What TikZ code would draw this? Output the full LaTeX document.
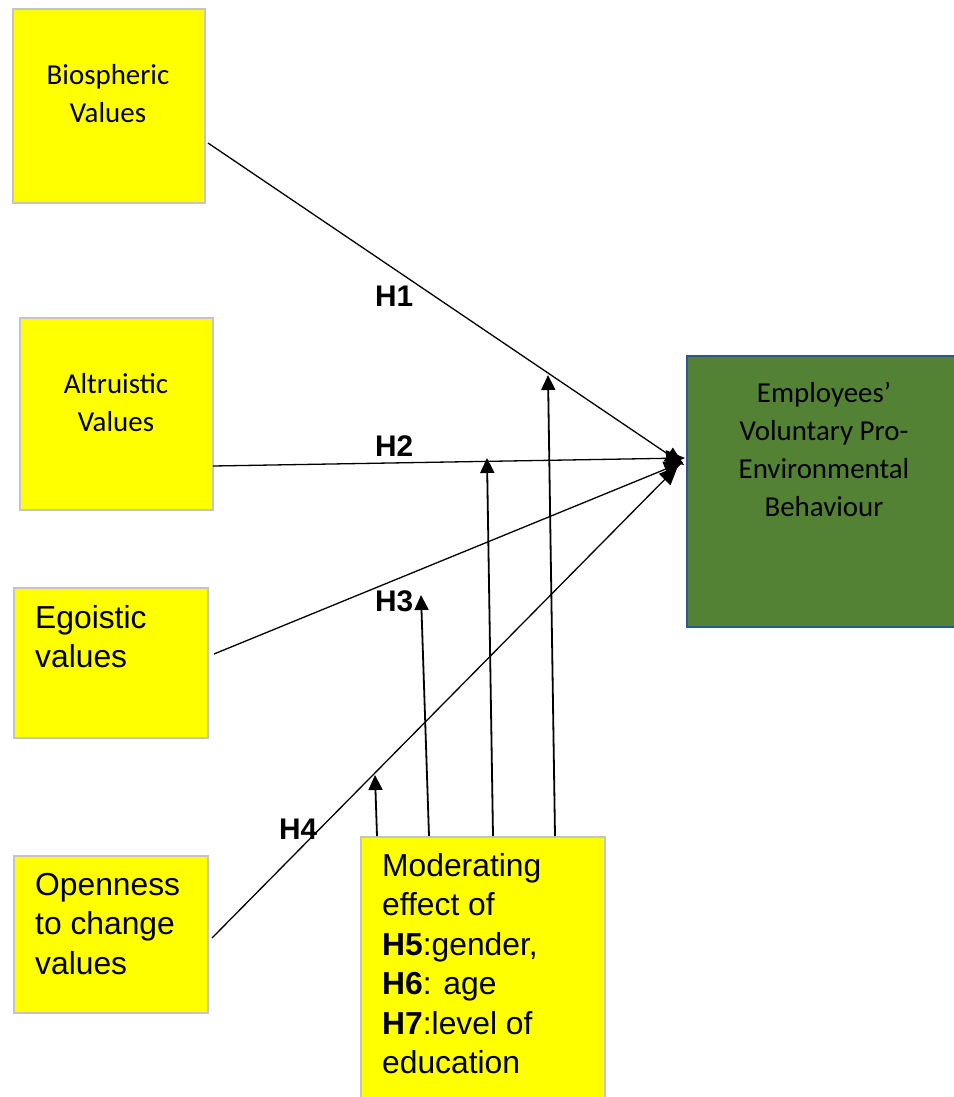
\documentclass[tikz,border=0pt]{standalone}
\usepackage{fontspec}
\setmainfont{Liberation Sans}
\newfontfamily\calibrifont{Carlito}
\usetikzlibrary{arrows.meta}
\definecolor{boxyellow}{HTML}{FFFF00}
\definecolor{boxgrey}{HTML}{C4C4C4}
\definecolor{boxgreen}{HTML}{548235}
\definecolor{boxblue}{HTML}{2F5597}
\begin{document}
\begin{tikzpicture}[x=1pt,y=-1pt,
  ybox/.style={draw=boxgrey,line width=2pt,fill=boxyellow,anchor=north west,inner sep=0pt},
  gbox/.style={draw=boxblue,line width=2pt,fill=boxgreen,anchor=north west,inner sep=0pt},
  caltext/.style={font=\calibrifont\fontsize{28.9}{38}\selectfont,align=center,anchor=base,inner sep=0pt},
  artext/.style={font=\fontsize{31.8}{39.5}\selectfont,align=left,anchor=base west,inner sep=0pt},
  hlabel/.style={font=\bfseries\fontsize{29.8}{34}\selectfont,anchor=base west,inner sep=0pt},
  hline/.style={line width=1.3pt,-{Triangle[length=19pt,width=16pt]}},
  mline/.style={line width=1.8pt,-{Triangle[length=15pt,width=14pt]}}]
\useasboundingbox (0,0) rectangle (953,1097);
% boxes
\node[ybox,minimum width=192pt,minimum height=194pt] (bio) at (12,8) {};
\node[ybox,minimum width=193pt,minimum height=192pt] (alt) at (19,317) {};
\node[ybox,minimum width=194pt,minimum height=150pt] (ego) at (13,587) {};
\node[ybox,minimum width=194pt,minimum height=157pt] (open) at (13,855) {};
\node[gbox,minimum width=279pt,minimum height=271pt] (evb) at (686,355) {};
\node[ybox,minimum width=244pt,minimum height=274pt] (mod) at (360,836) {};
% texts (anchor = baseline of the last line)
\node[caltext] (biot) at (108,123) {Biospheric\\Values};
\node[caltext] (altt) at (116,431) {Altruistic\\Values};
\node[caltext] (evbt) at (824,516) {Employees’\\Voluntary Pro-\\Environmental\\Behaviour};
\node[artext] (egot) at (35,667.5) {Egoistic\\values};
\node[artext] (opent) at (35,974) {Openness\\to change\\values};
\node[artext] (modt) at (382,1073.5) {Moderating\\effect of\\\textbf{H5}:gender,\\\textbf{H6}: age\\\textbf{H7}:level of\\education};
% hypothesis labels
\node[hlabel] (h1) at (375,306) {H1};
\node[hlabel] (h2) at (375,456) {H2};
\node[hlabel] (h3) at (375,611) {H3};
\node[hlabel] (h4) at (279,839) {H4};
% connector end points
\coordinate (s1) at (208,143);
\coordinate (s2) at (213,466);
\coordinate (s3) at (214,654);
\coordinate (s4) at (212,938);
\coordinate (t1) at (684,465);
\coordinate (t2) at (685,458);
\coordinate (t3) at (683,462);
\coordinate (t4) at (678,466);
\coordinate (m1) at (377,836);
\coordinate (m2) at (429,836);
\coordinate (m3) at (493,836);
\coordinate (m4) at (555,836);
\coordinate (u1) at (375,775);
\coordinate (u2) at (421,595);
\coordinate (u3) at (487,458);
\coordinate (u4) at (548,375);
% connectors
\draw[hline] (s1) -- (t1);
\draw[hline] (s2) -- (t2);
\draw[hline] (s3) -- (t3);
\draw[hline] (s4) -- (t4);
\draw[mline] (m1) -- (u1);
\draw[mline] (m2) -- (u2);
\draw[mline] (m3) -- (u3);
\draw[mline] (m4) -- (u4);
\end{tikzpicture}
\end{document}
